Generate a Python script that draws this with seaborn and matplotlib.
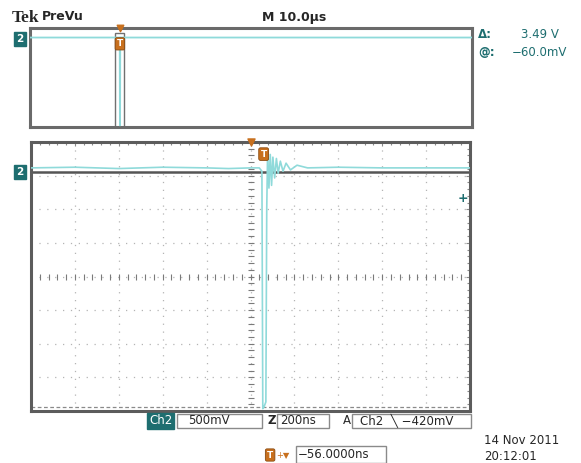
import matplotlib.pyplot as plt
import numpy as np
import seaborn as sns
from matplotlib.patches import Rectangle

# ── scope settings / readouts ──────────────────────────────────
volts_per_div = 0.5
ns_per_div = 200
ch2_offset_div = 3.23            # ground marker, divisions above centre
cursor_at_v = -0.06              # "@: -60.0mV"
cursor_delta_v = 3.49            # "Δ: 3.49 V"

# zoomed trace (Z 200ns/div), time relative to zoom centre
zoom_t_ns = [-1000, -800, -600, -400, -200, -100, 0, 40, 52, 56, 62, 70, 74,
             78, 84, 90, 96, 102, 110, 118, 126, 136, 148, 162, 182, 212,
             260, 400, 600, 800, 1000]
zoom_v = [0.0, 0.01, -0.01, 0.01, 0.0, -0.01, 0.0, 0.0, -0.05, -3.58, -3.55,
          -3.48, -0.6, 0.24, -0.30, 0.20, -0.26, 0.16, -0.15, 0.14, -0.08,
          0.10, -0.05, 0.07, -0.03, 0.04, 0.0, 0.01, 0.0, 0.0, 0.0]

# main record (M 10.0µs/div) shown in the PreVu strip
main_t_us = [-50, -29.70, -29.66, -29.62, -29.58, 50]
main_v = [0.0, 0.0, -3.55, -3.50, 0.0, 0.0]
zoom_center_us = -29.66

W, H = 581, 463


def fx(px):
    return px / W


def fy(py):
    return 1 - py / H


sns.set_style("white")
plt.rcParams['font.family'] = ['DejaVu Sans']

trace_col = "#8fdada"
teal = "#1e6e70"
orange = "#c8701e"
frame_col = "#5c5c5c"
grid_col = "#b4b4b4"

fig = plt.figure(figsize=(W / 100, H / 100), dpi=100)

ylo = (-4 - ch2_offset_div) * volts_per_div
yhi = (4 - ch2_offset_div) * volts_per_div

# ── PreVu strip ────────────────────────────────────────────────
axp = fig.add_axes([fx(30), fy(127), fx(472) - fx(30), fy(28) - fy(127)])
axp.set_xlim(-50, 50)
axp.set_ylim(ylo, yhi)
axp.add_patch(Rectangle((zoom_center_us - 1.0, 0.0), 2.0, 0.95,
                        transform=axp.get_xaxis_transform(),
                        facecolor="white", edgecolor="#707070", lw=1.0, zorder=2))
sns.lineplot(x=main_t_us, y=main_v, ax=axp, color=trace_col, lw=1.3,
             sort=False, estimator=None, zorder=3)
axp.set_xticks([])
axp.set_yticks([])
for s in axp.spines.values():
    s.set_color("#6a6a6a")
    s.set_linewidth(2.2)
    s.set_visible(True)
axp.scatter([zoom_center_us], [1.0], marker="v", s=22, color=orange,
            transform=axp.get_xaxis_transform(), clip_on=False, zorder=5)
axp.text(zoom_center_us, 0.84, "T", transform=axp.get_xaxis_transform(),
         ha="center", va="center", fontsize=6.5, color="white", weight="bold",
         bbox=dict(boxstyle="round,pad=0.18", fc=orange, ec="#8a4a10", lw=0.6),
         zorder=6)

# ── main zoomed window ─────────────────────────────────────────
ax = fig.add_axes([fx(31), fy(411), fx(470) - fx(31), fy(142) - fy(411)])
ax.set_xlim(-5 * ns_per_div, 5 * ns_per_div)
ax.set_ylim(ylo, yhi)

xmaj = np.arange(-5, 6) * ns_per_div
xmin = np.arange(-25, 26) * ns_per_div / 5
ymaj = (np.arange(-4, 5) - ch2_offset_div) * volts_per_div
ymin = (np.arange(-20, 21) / 5 - ch2_offset_div) * volts_per_div
ax.set_xticks(xmaj)
ax.set_xticks(xmin, minor=True)
ax.set_yticks(ymaj)
ax.set_yticks(ymin, minor=True)
ax.set_xticklabels([])
ax.set_yticklabels([])
ax.tick_params(which="both", direction="in", top=True, right=True,
               color="#8a8a8a", width=0.8)
ax.tick_params(which="major", length=3)
ax.tick_params(which="minor", length=2.5)
ax.grid(True, which="major", color=grid_col, lw=0.9, ls=(0, (1.0, 5.3)))

# centre cross ticks
yc = -ch2_offset_div * volts_per_div
ax.plot(np.zeros(len(ymin)), ymin, ls="none", marker="_", ms=5,
        mew=0.8, color="#7a7a7a", zorder=1)
ax.plot(xmin, np.full(len(xmin), yc), ls="none", marker="|", ms=5,
        mew=0.8, color="#7a7a7a", zorder=1)

# cursors
ax.axhline(cursor_at_v, color="#555555", lw=1.8, zorder=2)
ax.axhline(cursor_at_v - cursor_delta_v, color="#8a8a8a", lw=0.9,
           ls=(0, (3, 2)), zorder=2)

sns.lineplot(x=zoom_t_ns, y=zoom_v, ax=ax, color=trace_col, lw=1.2,
             sort=False, estimator=None, zorder=3)
ax.set_xlabel("")
ax.set_ylabel("")
for s in ax.spines.values():
    s.set_color(frame_col)
    s.set_linewidth(2.2)
    s.set_visible(True)

ax.scatter([0], [1.0], marker="v", s=26, color=orange,
           transform=ax.get_xaxis_transform(), clip_on=False, zorder=5)
ax.text(60, 0.955, "T", transform=ax.get_xaxis_transform(),
        ha="center", va="center", fontsize=6.5, color="white", weight="bold",
        bbox=dict(boxstyle="round,pad=0.2", fc=orange, ec="#8a4a10", lw=0.6),
        zorder=6)

# ── channel markers ────────────────────────────────────────────
box2 = dict(boxstyle="square,pad=0.2", fc=teal, ec=teal)
fig.text(fx(20), fy(39), "2", ha="center", va="center", fontsize=7.5,
         color="white", weight="bold", bbox=box2)
fig.text(fx(20), fy(172), "2", ha="center", va="center", fontsize=7.5,
         color="white", weight="bold", bbox=box2)
fig.text(fx(463), fy(198), "+", ha="center", va="center", fontsize=9,
         color=teal, weight="bold")

# ── header texts ───────────────────────────────────────────────
fig.text(fx(12), fy(18), "Tek", ha="left", va="center", fontsize=12.5,
         family="Liberation Serif", weight="bold")
fig.text(fx(42), fy(17), "PreVu", ha="left", va="center", fontsize=9,
         weight="semibold")
fig.text(fx(262), fy(17), "M 10.0\u00b5s", ha="left", va="center",
         fontsize=9, weight="semibold")
fig.text(fx(478), fy(35), "\u0394:", ha="left", va="center", fontsize=8.5,
         color=teal, weight="bold")
fig.text(fx(559), fy(35), "3.49 V", ha="right", va="center", fontsize=8.5,
         color=teal)
fig.text(fx(478), fy(52), "@:", ha="left", va="center", fontsize=8.5,
         color=teal, weight="bold")
fig.text(fx(567), fy(52), "\u221260.0mV", ha="right", va="center",
         fontsize=8.5, color=teal)

# ── bottom readouts ────────────────────────────────────────────
ry = fy(421)
fig.text(fx(149), ry, "Ch2", ha="left", va="center", fontsize=8.5,
         color="white", bbox=dict(boxstyle="square,pad=0.15", fc=teal, ec=teal))


def readout(x0, x1, label, tx):
    fig.patches.append(Rectangle((fx(x0), fy(428)), fx(x1) - fx(x0),
                                 fy(414) - fy(428), transform=fig.transFigure,
                                 fc="white", ec="#8a8a8a", lw=1.0))
    fig.text(fx(tx), ry, label, ha="left", va="center", fontsize=8.5)


readout(177, 262, "500mV", 188)
readout(277, 329, "200ns", 280)
readout(352, 471, "Ch2  \u2572 \u2212420mV", 360)
fig.text(fx(267), ry, "Z", ha="left", va="center", fontsize=8.5, weight="bold")
fig.text(fx(343), ry, "A", ha="left", va="center", fontsize=8.5)

fig.text(fx(267), fy(455), "T", ha="left", va="center", fontsize=6.5,
         color="white", weight="bold",
         bbox=dict(boxstyle="round,pad=0.18", fc=orange, ec="#8a4a10", lw=0.6))
fig.text(fx(276), fy(455), "+\u25bc", ha="left", va="center", fontsize=6,
         color=orange)
fig.patches.append(Rectangle((fx(296), fy(463)), fx(386) - fx(296),
                             fy(446) - fy(463), transform=fig.transFigure,
                             fc="white", ec="#8a8a8a", lw=1.0))
fig.text(fx(298), fy(455), "\u221256.0000ns", ha="left", va="center",
         fontsize=8.5)

fig.text(fx(484), fy(441), "14 Nov 2011", ha="left", va="center", fontsize=8.5)
fig.text(fx(484), fy(456), "20:12:01", ha="left", va="center", fontsize=8.5)

plt.savefig("out.png", dpi=100)
